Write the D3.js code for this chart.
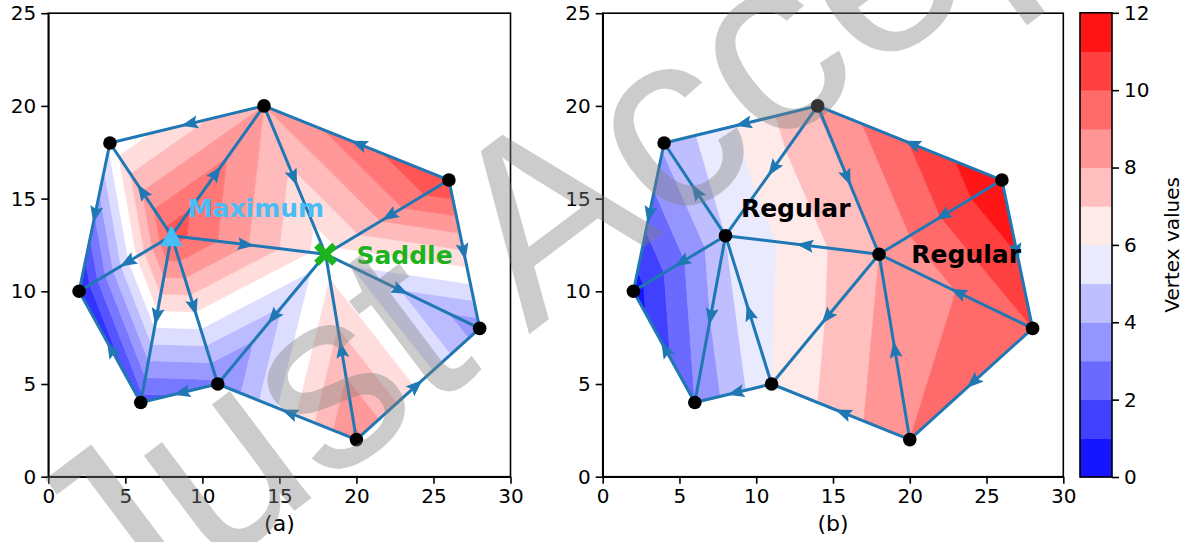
<!DOCTYPE html>
<html>
<head>
<meta charset="utf-8">
<script src="https://cdn.jsdelivr.net/npm/d3@7"></script>
<style>
  body { margin: 0; background: #fff; }
  text { font-family: "DejaVu Sans", sans-serif; }
</style>
</head>
<body>
<div id="chart"></div>
<script>
// DATA
// mesh vertices (x, y)
var vx = [4, 14, 26, 28, 20, 11, 6, 2, 8, 18];
var vy = [18, 20, 16, 8, 2, 5, 4, 10, 13, 12];
// scalar value at each vertex, panel (a) and panel (b)
var valuesA = [5.8, 8, 10.5, 3.5, 9, 3, 2, 0.5, 10, 6];
var valuesB = [4.2, 8.05, 12, 10, 9, 6, 3, 0.5, 5, 8];
// triangles (vertex indices)
var triangles = [
  [7, 0, 8], [0, 1, 8], [1, 9, 8], [1, 2, 9], [2, 3, 9],
  [3, 4, 9], [4, 5, 9], [5, 8, 9], [5, 6, 8], [6, 7, 8]
];
// directed edges (from -> to), arrow drawn at the middle
var edgesA = [
  [1, 0], [8, 1], [8, 0], [0, 7], [8, 7], [8, 9], [1, 9], [2, 1], [2, 9], [2, 3],
  [9, 3], [9, 5], [4, 9], [4, 3], [4, 5], [5, 6], [6, 7], [8, 6], [8, 5]
];
var edgesB = [
  [1, 0], [1, 8], [8, 0], [0, 7], [8, 7], [9, 8], [1, 9], [2, 1], [2, 9], [2, 3],
  [3, 9], [9, 5], [4, 9], [3, 4], [4, 5], [5, 6], [6, 7], [8, 6], [5, 8]
];
// contour levels
var levelsA = d3.range(0, 16).map(function (i) { return i * 0.8; });   // 15 bands
var levelsB = d3.range(0, 13);                                          // 12 bands
var xTicks = [0, 5, 10, 15, 20, 25, 30];
var yTicks = [0, 5, 10, 15, 20, 25];
var cbarTicks = [0, 2, 4, 6, 8, 10, 12];

var edgeColor = "#1f77b4";

// bwr colormap
function bwr(t) {
  var r, g, b;
  if (t < 0.5) { r = 2 * t; g = 2 * t; b = 1; }
  else { r = 1; g = 2 * (1 - t); b = 2 * (1 - t); }
  return d3.rgb(r * 255, g * 255, b * 255).formatHex();
}

var svg = d3.select("#chart").append("svg")
  .attr("width", 1183).attr("height", 542)
  .style("background", "#fff");

var y = d3.scaleLinear().domain([0, 25]).range([476.7, 13.2]);
var xA = d3.scaleLinear().domain([0, 30]).range([48.3, 510.5]);
var xB = d3.scaleLinear().domain([0, 30]).range([602.7, 1063.3]);

// clip polygon with linear field against a level
function clipPoly(poly, lvl, above) {
  var out = [];
  for (var i = 0; i < poly.length; i++) {
    var a = poly[i], b = poly[(i + 1) % poly.length];
    var ina = above ? a.f >= lvl : a.f <= lvl;
    var inb = above ? b.f >= lvl : b.f <= lvl;
    if (ina) out.push(a);
    if (ina !== inb) {
      var t = (lvl - a.f) / (b.f - a.f);
      out.push({ x: a.x + t * (b.x - a.x), y: a.y + t * (b.y - a.y), f: lvl });
    }
  }
  return out;
}

function drawPanel(x, values, levels, edges, label) {
  var g = svg.append("g");
  var nb = levels.length - 1;

  // filled contours
  var fills = g.append("g");
  triangles.forEach(function (tri) {
    var poly = tri.map(function (i) { return { x: vx[i], y: vy[i], f: values[i] }; });
    for (var k = 0; k < nb; k++) {
      var p = clipPoly(clipPoly(poly, levels[k], true), levels[k + 1], false);
      if (p.length < 3) continue;
      var col = bwr((k + 0.5) / nb);
      fills.append("path")
        .attr("d", "M" + p.map(function (q) { return x(q.x) + "," + y(q.y); }).join("L") + "Z")
        .attr("fill", col)
        .attr("stroke", col)
        .attr("stroke-width", 0.6);
    }
  });

  // edges
  g.selectAll("line.edge")
    .data(edges)
    .enter()
    .append("line")
    .attr("class", "edge")
    .attr("x1", function (d) { return x(vx[d[0]]); })
    .attr("y1", function (d) { return y(vy[d[0]]); })
    .attr("x2", function (d) { return x(vx[d[1]]); })
    .attr("y2", function (d) { return y(vy[d[1]]); })
    .attr("stroke", edgeColor)
    .attr("stroke-width", 3);

  // arrow heads at middle of edges
  g.selectAll("path.head")
    .data(edges)
    .enter()
    .append("path")
    .attr("class", "head")
    .attr("fill", edgeColor)
    .attr("d", function (d) {
      var x1 = x(vx[d[0]]), y1 = y(vy[d[0]]);
      var x2 = x(vx[d[1]]), y2 = y(vy[d[1]]);
      var len = Math.hypot(x2 - x1, y2 - y1);
      var ux = (x2 - x1) / len, uy = (y2 - y1) / len;
      var tx = (x1 + x2) / 2 + ux * 6, ty = (y1 + y2) / 2 + uy * 6;
      var bx = tx - ux * 17, by = ty - uy * 17;
      var w = 6.5;
      return "M" + tx + "," + ty +
        "L" + (bx - uy * w) + "," + (by + ux * w) +
        "L" + (bx + ux * 3) + "," + (by + uy * 3) +
        "L" + (bx + uy * w) + "," + (by - ux * w) + "Z";
    });

  // axes
  g.append("g")
    .attr("transform", "translate(0," + y(0) + ")")
    .call(d3.axisBottom(x).tickValues(xTicks).tickSize(7).tickPadding(5).tickSizeOuter(0))
    .call(styleAxis);
  g.append("g")
    .attr("transform", "translate(" + x(0) + ",0)")
    .call(d3.axisLeft(y).tickValues(yTicks).tickSize(7).tickPadding(5).tickSizeOuter(0))
    .call(styleAxis);
  g.append("rect")
    .attr("x", x(0)).attr("y", y(25))
    .attr("width", x(30) - x(0)).attr("height", y(0) - y(25))
    .attr("fill", "none").attr("stroke", "#000").attr("stroke-width", 1.6);

  g.append("text")
    .attr("x", (x(0) + x(30)) / 2)
    .attr("y", 531)
    .attr("text-anchor", "middle")
    .style("font-size", "22px")
    .text(label);

  return g;
}

function styleAxis(sel) {
  sel.select(".domain").attr("stroke", "#000").attr("stroke-width", 1.6);
  sel.selectAll(".tick line").attr("stroke", "#000").attr("stroke-width", 1.6);
  sel.selectAll(".tick text")
    .attr("fill", "#000")
    .style("font-size", "20px")
    .style("font-family", "DejaVu Sans, sans-serif");
}

var gA = drawPanel(xA, valuesA, levelsA, edgesA, "(a)");
var gB = drawPanel(xB, valuesB, levelsB, edgesB, "(b)");

// vertices panel (a): black dots except maximum and saddle
var regularA = [0, 1, 2, 3, 4, 5, 6, 7];
gA.selectAll("circle.v")
  .data(regularA)
  .enter()
  .append("circle")
  .attr("cx", function (i) { return xA(vx[i]); })
  .attr("cy", function (i) { return y(vy[i]); })
  .attr("r", 6.8)
  .attr("fill", "#000");

var maxColor = "#47bef5";
var saddleColor = "#1db31d";
var mx = xA(vx[8]), my = y(vy[8]);
gA.append("path")
  .attr("d", "M" + mx + "," + (my - 10.5) + "L" + (mx + 11) + "," + (my + 10.5) + "L" + (mx - 11) + "," + (my + 10.5) + "Z")
  .attr("fill", maxColor);
var sx = xA(vx[9]), sy = y(vy[9]);
gA.append("path")
  .attr("d", "M" + (sx - 9) + "," + (sy - 9) + "L" + (sx + 9) + "," + (sy + 9) +
    "M" + (sx - 9) + "," + (sy + 9) + "L" + (sx + 9) + "," + (sy - 9))
  .attr("stroke", saddleColor)
  .attr("stroke-width", 7);

gA.append("text")
  .attr("x", xA(9.05)).attr("y", y(14.5))
  .attr("dy", "0.36em")
  .attr("fill", maxColor)
  .style("font-size", "25px").style("font-weight", "bold")
  .text("Maximum");
gA.append("text")
  .attr("x", xA(20.0)).attr("y", y(11.95))
  .attr("dy", "0.36em")
  .attr("fill", saddleColor)
  .style("font-size", "25px").style("font-weight", "bold")
  .text("Saddle");

// vertices panel (b)
gB.selectAll("circle.v")
  .data(d3.range(vx.length))
  .enter()
  .append("circle")
  .attr("cx", function (i) { return xB(vx[i]); })
  .attr("cy", function (i) { return y(vy[i]); })
  .attr("r", 6.8)
  .attr("fill", "#000");

gB.append("text")
  .attr("x", xB(9.0)).attr("y", y(14.5))
  .attr("dy", "0.36em")
  .style("font-size", "25px").style("font-weight", "bold")
  .text("Regular");
gB.append("text")
  .attr("x", xB(20.1)).attr("y", y(12.0))
  .attr("dy", "0.36em")
  .style("font-size", "25px").style("font-weight", "bold")
  .text("Regular");

// colorbar
var cb = svg.append("g");
var cy = d3.scaleLinear().domain([0, 12]).range([477, 12.8]);
cb.selectAll("rect.band")
  .data(d3.range(levelsB.length - 1))
  .enter()
  .append("rect")
  .attr("x", 1080)
  .attr("width", 32)
  .attr("y", function (k) { return cy(levelsB[k + 1]); })
  .attr("height", function (k) { return cy(levelsB[k]) - cy(levelsB[k + 1]) + 0.5; })
  .attr("fill", function (k) { return bwr((k + 0.5) / (levelsB.length - 1)); });
cb.append("rect")
  .attr("x", 1080).attr("y", cy(12))
  .attr("width", 32).attr("height", cy(0) - cy(12))
  .attr("fill", "none").attr("stroke", "#000").attr("stroke-width", 1.6);
cb.append("g")
  .attr("transform", "translate(1112,0)")
  .call(d3.axisRight(cy).tickValues(cbarTicks).tickSize(7).tickPadding(5).tickSizeOuter(0))
  .call(styleAxis)
  .select(".domain").remove();
cb.append("text")
  .attr("transform", "translate(1172," + (cy(6)) + ") rotate(-90)")
  .attr("text-anchor", "middle")
  .attr("dy", "0.36em")
  .style("font-size", "20px")
  .text("Vertex values");

// watermark
svg.append("text")
  .attr("transform", "translate(110,650) rotate(-37)")
  .attr("fill", "#808080")
  .attr("fill-opacity", 0.4)
  .style("font-family", "Liberation Sans, sans-serif")
  .style("font-size", "255px")
  .text("Just Accepted");
</script>
</body>
</html>
